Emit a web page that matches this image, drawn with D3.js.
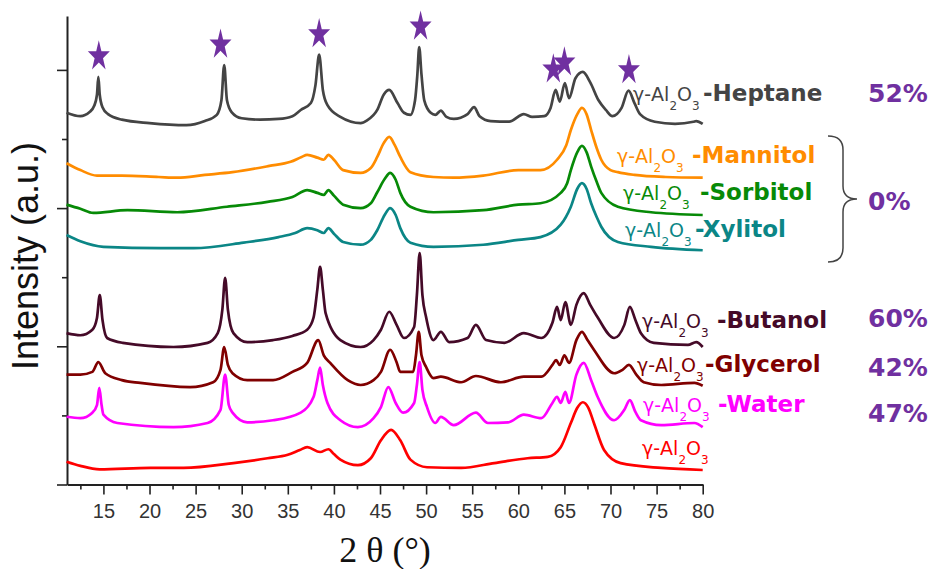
<!DOCTYPE html>
<html>
<head>
<meta charset="utf-8">
<script src="https://cdn.jsdelivr.net/npm/d3@7"></script>
<style>
  body { margin: 0; background: #fff; }
  svg { display: block; }
</style>
</head>
<body>
<svg id="chart" width="933" height="569"></svg>
<script>
// XRD patterns of γ-Al2O3 prepared in different media, stacked with vertical offsets.
// Each series: [2θ (deg), intensity (a.u., offset included)]
const heptane = [
  [11,5.38],[12.5,5.33],[13.5,5.39],[14.0,5.48],[14.3,5.64],[14.45,5.90],[14.6,5.64],[14.9,5.46],[15.5,5.36],
  [17,5.28],[20,5.23],[24,5.20],[26,5.26],[27.3,5.35],[27.8,5.56],[28.1,6.07],[28.4,5.56],[28.9,5.39],
  [30,5.30],[32,5.28],[34,5.29],[35.5,5.33],[36.4,5.42],[37.5,5.52],[38.0,5.78],[38.4,6.22],[38.8,5.71],
  [39.3,5.49],[40.7,5.32],[42.9,5.23],[43.6,5.27],[44.7,5.42],[45.4,5.64],[46.0,5.71],[46.9,5.52],
  [47.6,5.38],[48.3,5.35],[48.8,5.56],[49.05,5.93],[49.25,6.33],[49.5,5.93],[49.8,5.56],[50.5,5.38],
  [51.0,5.35],[51.6,5.41],[52.2,5.32],[53,5.29],[54.5,5.36],[55.2,5.46],[55.8,5.33],[57,5.26],[59,5.25],
  [60.6,5.36],[61.5,5.32],[62.8,5.33],[63.5,5.45],[64.05,5.71],[64.5,5.54],[65.05,5.81],[65.5,5.59],
  [66.2,5.88],[67.0,5.97],[67.8,5.82],[68.7,5.56],[69.5,5.42],[70.2,5.33],[71.2,5.45],[71.95,5.70],
  [72.6,5.52],[73.2,5.36],[74.8,5.25],[77,5.22],[79.0,5.25],[79.3,5.26],[80,5.22]
];
const mannitol = [
  [11,4.65],[12.5,4.55],[14.3,4.47],[17,4.47],[21,4.45],[23,4.44],[26,4.48],[29,4.52],[33,4.61],
  [35.3,4.67],[36.5,4.74],[37.1,4.77],[38.2,4.73],[38.9,4.70],[39.4,4.77],[40,4.70],[41,4.55],
  [42.9,4.51],[44.0,4.58],[44.7,4.74],[45.4,4.94],[46.0,5.03],[46.6,4.91],[47.2,4.74],[48.3,4.52],
  [50.8,4.45],[53,4.44],[56.2,4.47],[60,4.55],[62.4,4.55],[64.2,4.70],[65.2,4.91],[65.7,5.13],
  [66.4,5.36],[66.9,5.45],[67.4,5.36],[67.9,5.13],[68.5,4.87],[69.0,4.70],[70.0,4.55],[70.8,4.52],
  [72.6,4.48],[76,4.45],[80,4.44]
];
const sorbitol = [
  [11,4.05],[12.5,3.99],[13.9,3.93],[17.6,3.97],[23,3.94],[28.4,4.02],[32.8,4.09],[35.5,4.16],
  [37.1,4.26],[38.2,4.22],[38.9,4.19],[39.4,4.26],[40,4.18],[41,4.05],[42.9,4.00],[44.0,4.07],
  [44.7,4.23],[45.5,4.42],[46.1,4.51],[46.7,4.41],[47.2,4.22],[48.3,4.02],[50.8,3.94],[56.2,3.97],
  [60,4.05],[62.4,4.07],[64.6,4.22],[65.3,4.36],[65.7,4.55],[66.4,4.81],[66.9,4.90],[67.4,4.81],
  [67.9,4.60],[68.5,4.38],[69,4.22],[70.8,4.02],[74.4,3.94],[80,3.90]
];
const xylitol = [
  [11,3.61],[12.5,3.52],[15,3.44],[21.2,3.42],[24.8,3.42],[30.2,3.50],[34,3.58],[35.8,3.64],
  [37.1,3.71],[38.2,3.68],[38.9,3.64],[39.4,3.71],[40,3.63],[41,3.51],[42.9,3.47],[44,3.54],
  [44.7,3.68],[45.5,3.90],[46.1,4.00],[46.7,3.90],[47.2,3.71],[48.3,3.50],[50.8,3.44],[56.2,3.47],
  [60,3.54],[62.4,3.58],[64.6,3.76],[65.7,4.02],[66.4,4.28],[66.9,4.36],[67.4,4.28],[67.9,4.07],
  [68.5,3.87],[69,3.73],[70.8,3.51],[74.4,3.44],[80,3.39]
];
const butanol = [
  [11,2.19],[12.5,2.16],[13.8,2.24],[14.3,2.41],[14.6,2.74],[14.9,2.38],[15.4,2.12],[17.1,2.05],
  [22.6,1.99],[26.3,2.05],[27.4,2.19],[27.9,2.53],[28.2,2.99],[28.5,2.53],[29.1,2.19],[30.6,2.06],
  [33.4,2.09],[35.5,2.15],[37.1,2.24],[37.8,2.42],[38.2,2.82],[38.5,3.15],[38.8,2.82],[39.1,2.48],
  [40.7,2.09],[42.9,1.99],[44.3,2.09],[45.1,2.24],[46.0,2.50],[46.8,2.31],[47.6,2.12],[48.7,2.28],
  [49.0,2.74],[49.3,3.35],[49.6,2.74],[50.0,2.42],[50.8,2.09],[51.6,2.21],[52.5,2.06],[54.5,2.12],
  [55.4,2.31],[56.5,2.09],[58.5,2.05],[60.6,2.19],[62.5,2.12],[63.7,2.34],[64.2,2.57],[64.6,2.38],
  [65.1,2.64],[65.7,2.31],[66.3,2.60],[67.1,2.77],[67.8,2.60],[68.6,2.42],[70.4,2.12],[71.5,2.31],
  [72.1,2.57],[72.7,2.38],[73.3,2.19],[74.7,2.05],[78.4,2.02],[79.3,2.06],[80,1.99]
];
const glycerol = [
  [11,1.59],[12.5,1.59],[13.8,1.63],[14.45,1.77],[15.2,1.61],[17,1.51],[19,1.47],[24.4,1.41],
  [26.9,1.48],[27.7,1.66],[28.1,1.99],[28.5,1.73],[29,1.61],[30.6,1.51],[33.4,1.51],[35.5,1.63],
  [37.1,1.76],[38.3,2.09],[38.9,1.87],[39.6,1.76],[41.5,1.51],[42.9,1.44],[44.3,1.51],[45.1,1.63],
  [46.1,1.95],[46.8,1.77],[47.2,1.63],[48.6,1.63],[48.9,1.87],[49.2,2.21],[49.5,1.87],[50.0,1.70],
  [50.8,1.54],[51.6,1.56],[53.8,1.48],[55.4,1.57],[58.1,1.48],[60.6,1.56],[62.5,1.56],[63.7,1.73],
  [64.1,1.80],[64.5,1.73],[65.0,1.87],[65.5,1.76],[66.3,2.09],[66.9,2.21],[67.5,2.09],[68.2,1.95],
  [70.4,1.61],[71.3,1.66],[72.0,1.73],[72.8,1.59],[73.6,1.48],[75.5,1.44],[79.1,1.47],[80,1.43]
];
const water = [
  [11,0.98],[12.5,0.96],[13.8,1.04],[14.3,1.15],[14.55,1.40],[14.8,1.15],[15.0,1.01],[16.5,0.89],
  [22.6,0.83],[26.3,0.89],[27.7,1.08],[28.2,1.59],[28.6,1.15],[29,1.04],[30.6,0.90],[33.4,0.93],
  [36.4,1.04],[37.8,1.27],[38.2,1.51],[38.5,1.69],[38.8,1.44],[39.3,1.18],[40.7,0.93],[42.6,0.83],
  [44.3,0.96],[45.1,1.12],[45.9,1.41],[46.7,1.18],[47.5,1.04],[48.7,1.18],[49.0,1.44],[49.3,1.77],
  [49.6,1.37],[50.1,1.12],[51,0.89],[51.6,0.98],[53,0.86],[55.4,1.04],[56.7,0.89],[58.9,0.90],
  [60.6,1.01],[62.5,0.96],[63.7,1.18],[64.2,1.27],[64.6,1.18],[65.1,1.34],[65.5,1.18],[66.3,1.59],
  [67.1,1.76],[67.9,1.51],[68.6,1.27],[70.4,0.93],[71.5,1.08],[72.1,1.22],[72.7,1.05],[73.3,0.93],
  [75.5,0.86],[79.1,0.89],[80,0.83]
];
const alumina = [
  [11,0.33],[12.5,0.27],[14.6,0.22],[20.1,0.24],[23.7,0.24],[29.1,0.31],[32.8,0.38],[35,0.43],
  [36.3,0.50],[37.1,0.54],[38.5,0.47],[39.4,0.51],[40.0,0.44],[40.7,0.36],[42.6,0.28],[44,0.38],
  [45.1,0.64],[46.2,0.79],[47.2,0.64],[48.3,0.36],[50.1,0.25],[53.8,0.24],[57.4,0.31],[61,0.38],
  [63.2,0.40],[64.6,0.54],[65.7,0.89],[66.4,1.11],[67.0,1.19],[67.6,1.11],[68.2,0.89],[69.3,0.50],
  [71.1,0.31],[75.5,0.24],[80,0.21]
];

const seriesNames = ["Heptane", "Mannitol", "Sorbitol", "Xylitol", "Butanol", "Glycerol", "Water", ""];
const seriesData = [heptane, mannitol, sorbitol, xylitol, butanol, glycerol, water, alumina];
const seriesColors = ["#444444", "#ff8c00", "#078a07", "#0b8686", "#450a28", "#800000", "#ff00ff", "#ff0000"];

const crystallinity = ["52%", "0%", "60%", "42%", "47%"];
const starAngles = [14.5, 27.7, 38.4, 49.4, 63.8, 65.0, 72.0];   // marked reflections on the heptane pattern
const xTicks = [15, 20, 25, 30, 35, 40, 45, 50, 55, 60, 65, 70, 75, 80];
const yTicksMajor = [0, 2, 4, 6];
const yTicksMinor = [1, 3, 5];

// ---- layout ----
const sans = "'Liberation Sans', Arial, sans-serif";
const wide = "'DejaVu Sans', Verdana, sans-serif";
const serif = "'Liberation Serif', 'Times New Roman', serif";
const purple = "#7030a0";
const axisColor = "#222";

// label anchors: x0 = formula start, x1 = name start, y = baseline
const labelLayout = [
  { x0: 633, x1: 703, y: 101 },
  { x0: 617, x1: 692, y: 163 },
  { x0: 623, x1: 700, y: 200 },
  { x0: 625, x1: 695, y: 237 },
  { x0: 642, x1: 717, y: 328 },
  { x0: 637, x1: 705, y: 372 },
  { x0: 643, x1: 718, y: 412 },
  { x0: 642, x1: null, y: 455 }
];
const percentBaselines = [102, 210, 327, 376, 422];

const svg = d3.select("#chart");
const x = d3.scaleLinear().domain([11.05, 80]).range([67, 702.7]);
const y = d3.scaleLinear().domain([0, 6.78]).range([484.5, 16]);

// ---- axes ----
const xMinor = d3.range(12.5, 80, 5);
const gx = svg.append("g").attr("transform", `translate(0,${y(0)})`)
  .call(d3.axisBottom(x).tickValues(xTicks).tickSize(10).tickSizeOuter(0).tickPadding(9).tickFormat(d3.format("d")));
svg.append("g").attr("transform", `translate(0,${y(0)})`)
  .call(d3.axisBottom(x).tickValues(xMinor).tickSize(5).tickSizeOuter(0).tickFormat(""))
  .select(".domain").remove();

const gy = svg.append("g").attr("transform", `translate(${x.range()[0]},0)`)
  .call(d3.axisLeft(y).tickValues(yTicksMajor).tickSize(10).tickSizeOuter(0).tickFormat(""));
svg.append("g").attr("transform", `translate(${x.range()[0]},0)`)
  .call(d3.axisLeft(y).tickValues(yTicksMinor).tickSize(5).tickSizeOuter(0).tickFormat(""))
  .select(".domain").remove();

svg.selectAll(".domain").attr("stroke", axisColor).attr("stroke-width", 2);
svg.selectAll(".tick line").attr("stroke", axisColor).attr("stroke-width", 1.6);
gx.selectAll(".tick text").attr("font-family", sans).attr("font-size", 20).attr("fill", "#333");

// axis titles
svg.append("text")
  .attr("x", 385).attr("y", 562)
  .attr("text-anchor", "middle")
  .attr("font-family", serif).attr("font-size", 36).attr("fill", "#111")
  .text("2 θ (°)");

svg.append("text")
  .attr("transform", "translate(38,256) rotate(-90)")
  .attr("text-anchor", "middle")
  .attr("font-family", sans).attr("font-size", 36).attr("fill", "#111")
  .text("Intensity (a.u.)");

// ---- patterns ----
const line = d3.line()
  .x(d => x(d[0]))
  .y(d => y(d[1]))
  .curve(d3.curveMonotoneX);

svg.append("g").selectAll("path")
  .data(seriesData)
  .join("path")
  .attr("d", line)
  .attr("fill", "none")
  .attr("stroke", (d, i) => seriesColors[i])
  .attr("stroke-width", 2.7)
  .attr("stroke-linejoin", "round");

// ---- series labels ----
seriesNames.forEach((name, i) => {
  const L = labelLayout[i];
  const t = svg.append("text")
    .attr("x", L.x0).attr("y", L.y)
    .attr("fill", seriesColors[i])
    .attr("font-family", wide);
  t.append("tspan").attr("font-size", 19).text("γ-Al");
  t.append("tspan").attr("font-size", 12).attr("dy", 9).text("2");
  t.append("tspan").attr("font-size", 19).attr("dy", -9).text("O");
  t.append("tspan").attr("font-size", 12).attr("dy", 9).text("3");
  if (name) {
    t.append("tspan")
      .attr("x", L.x1).attr("y", L.y)
      .attr("font-size", 23).attr("font-weight", "bold")
      .text("-" + name);
  }
});

// ---- crystallinity values ----
svg.append("g").selectAll("text")
  .data(crystallinity)
  .join("text")
  .attr("x", 868)
  .attr("y", (d, i) => percentBaselines[i])
  .attr("font-family", wide).attr("font-size", 25).attr("font-weight", "bold")
  .attr("fill", purple)
  .text(d => d);

// brace grouping the sugar-alcohol samples
svg.append("path")
  .attr("d", "M828,136 Q843,136 843,150 L843,186 Q843,199 857,199 Q843,199 843,212 L843,248 Q843,262 828,262")
  .attr("fill", "none").attr("stroke", "#444").attr("stroke-width", 1.5);

// ---- reflection markers above the heptane pattern ----
const star = d3.symbol().type(d3.symbolStar).size(150);
svg.append("g").selectAll("path")
  .data(starAngles)
  .join("path")
  .attr("d", star)
  .attr("fill", purple)
  .attr("transform", a => {
    const near = heptane.filter(p => Math.abs(p[0] - a) <= 0.7);
    const top = d3.max(near, p => p[1]);
    return `translate(${x(a)},${y(top) - 20.5}) scale(1,1.4)`;
  });
</script>
</body>
</html>
